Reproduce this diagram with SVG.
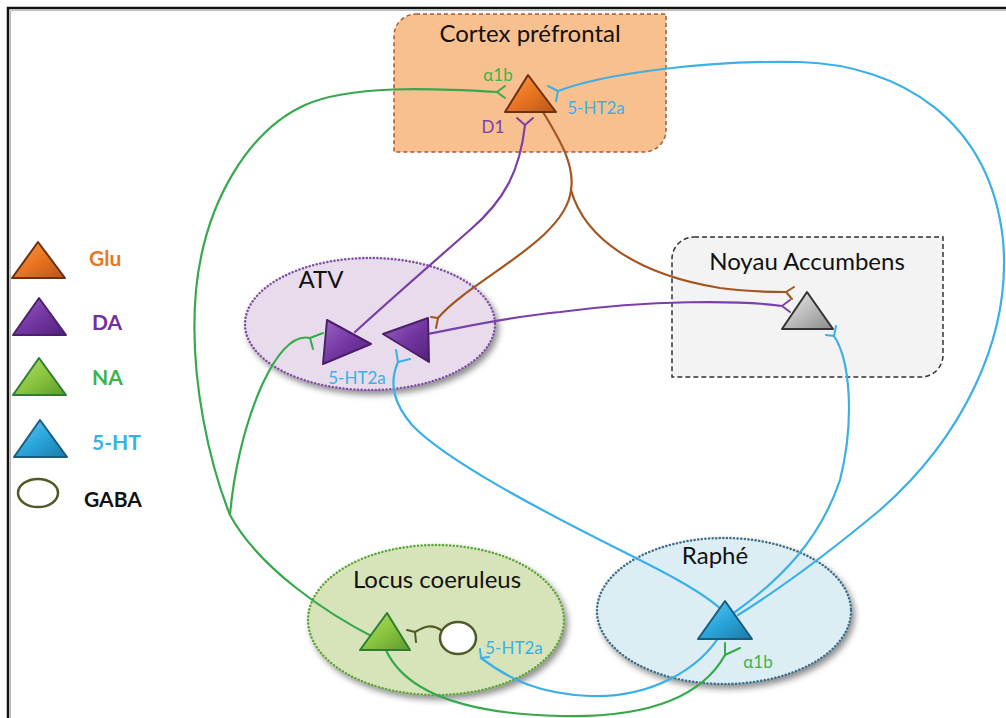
<svg xmlns="http://www.w3.org/2000/svg" width="1006" height="718" viewBox="0 0 1006 718">
<defs>
<style>
.lbl{font-family:Lato,"Open Sans","Liberation Sans",sans-serif;fill:#111;text-anchor:middle;font-size:24px}
.sm{font-family:Lato,"Open Sans","Liberation Sans",sans-serif;font-size:17px;text-anchor:middle}
.leg{font-family:Lato,"Open Sans","Liberation Sans",sans-serif;font-size:21px;font-weight:bold}
.ln{fill:none;stroke-width:2.2;stroke-linecap:round;stroke-linejoin:round}
.g{stroke:#36a94d}.b{stroke:#3bb0e6}.p{stroke:#7a3fa8}.br{stroke:#a3541f}.ol{stroke:#4f5a27}
.fk{fill:none;stroke-width:2;stroke-linecap:round;stroke-linejoin:round}
.tri{stroke-width:2;stroke-linejoin:round}
</style>
<linearGradient id="gO" x1="0" y1="0" x2="1" y2="1"><stop offset="0" stop-color="#f7a04e"/><stop offset="0.5" stop-color="#ea7421"/><stop offset="1" stop-color="#b8561a"/></linearGradient>
<linearGradient id="gP" x1="0" y1="0" x2="1" y2="1"><stop offset="0" stop-color="#9a66c4"/><stop offset="0.5" stop-color="#7537a3"/><stop offset="1" stop-color="#52217a"/></linearGradient>
<linearGradient id="gG" x1="0" y1="0" x2="1" y2="1"><stop offset="0" stop-color="#b6dc7a"/><stop offset="0.5" stop-color="#8cc63f"/><stop offset="1" stop-color="#5c9a2c"/></linearGradient>
<linearGradient id="gB" x1="0" y1="0" x2="1" y2="1"><stop offset="0" stop-color="#6fcdf2"/><stop offset="0.5" stop-color="#2aa6dc"/><stop offset="1" stop-color="#1b7aa8"/></linearGradient>
<linearGradient id="gY" x1="0" y1="0" x2="1" y2="1"><stop offset="0" stop-color="#efefef"/><stop offset="0.5" stop-color="#bdbdbd"/><stop offset="1" stop-color="#8a8a8a"/></linearGradient>
<filter id="sh" x="-10%" y="-10%" width="125%" height="130%"><feDropShadow dx="3" dy="4" stdDeviation="3" flood-color="#000" flood-opacity="0.45"/></filter>
</defs>

<path d="M8 718 V8 H1006" fill="none" stroke="#111" stroke-width="2.5"/>
<path d="M10.5 718 V10.5 H1006" fill="none" stroke="#bbb" stroke-width="1"/>

<g id="cortex">
<path d="M416 14 H666 V130 A22 22 0 0 1 644 152 H394 V36 A22 22 0 0 1 416 14 Z" fill="#f9c08f" stroke="#a85a34" stroke-width="1.5" stroke-dasharray="4 3"/>
<text class="lbl" x="530" y="42">Cortex préfrontal</text>
</g>

<g id="nac">
<path d="M694 237 H943 V355 A22 22 0 0 1 921 377 H672 V259 A22 22 0 0 1 694 237 Z" fill="#f3f3f3" stroke="#333" stroke-width="1.5" stroke-dasharray="5 3"/>
<text class="lbl" x="807" y="270">Noyau Accumbens</text>
</g>

<g id="atv">
<ellipse cx="370" cy="324" rx="125" ry="66" fill="#e8dcec" stroke="#7e4fa3" stroke-width="2.5" stroke-dasharray="0.1 3.5" stroke-linecap="round" filter="url(#sh)"/>
<text class="lbl" x="321" y="288">ATV</text>
</g>

<g id="lc">
<ellipse cx="436" cy="620" rx="128" ry="75" fill="#d7e4b9" stroke="#5fa53a" stroke-width="2.5" stroke-dasharray="0.1 3.5" stroke-linecap="round" filter="url(#sh)"/>
<text class="lbl" x="437" y="588">Locus coeruleus</text>
</g>

<g id="raphe">
<ellipse cx="724" cy="611" rx="127" ry="73" fill="#dcedf4" stroke="#3e6e8a" stroke-width="2.5" stroke-dasharray="0.1 3.5" stroke-linecap="round" filter="url(#sh)"/>
<text class="lbl" x="715" y="564">Raphé</text>
</g>

<g id="connectors">
<path class="ln g" d="M497 92 C430 88 350 85 305 105 C250 130 205 200 196 290 C188 380 212 470 230 515 C260 570 330 615 375 638"/>
<path class="ln g" d="M310 338 C292 334 276 355 262 385 C242 430 233 480 230 515"/>
<path class="ln g" d="M385 648 C405 695 470 714 560 716 C640 718 700 700 725 655"/>
<path class="ln b" d="M558 91 C600 75 700 60 800 62 C900 65 990 120 1003 240 C1012 340 960 440 880 510 C820 560 770 595 738 615"/>
<path class="ln b" d="M834 336 C850 360 855 420 840 480 C820 540 780 580 735 612"/>
<path class="ln b" d="M398 362 C388 385 395 405 412 425 C445 460 540 510 620 550 C660 570 700 590 722 610"/>
<path class="ln b" d="M481 658 C510 680 540 694 590 696 C650 698 700 670 722 632"/>
<path class="ln p" d="M525 125 C520 170 505 200 470 230 C430 265 390 300 355 332"/>
<path class="ln p" d="M782 306 C740 300 650 300 560 312 C500 318 460 328 428 334"/>
<path class="ln br" d="M543 112 C560 140 575 165 571 190 C566 240 470 280 438 318"/>
<path class="ln br" d="M571 190 C585 240 640 275 720 288 C750 292 770 292 786 292"/>
<path class="ln ol" d="M441 630 C432 624 425 626 415 632"/>
<path class="fk g" d="M505 86 L497 92 L505 98"/>
<path class="fk b" d="M548 86 L558 91 L556 101"/>
<path class="fk p" d="M517 118 L525 125 L533 118"/>
<path class="fk br" d="M794 287 L786 292 L792 299"/>
<path class="fk p" d="M790 300 L782 306 L790 312"/>
<path class="fk b" d="M826 335 L834 336 L836 326"/>
<path class="fk br" d="M431 317 L438 318 L436 328"/>
<path class="fk g" d="M323 333 L310 338 L313 349"/>
<path class="fk b" d="M396 350 L398 362 L410 359"/>
<path class="fk ol" d="M407 630 L415 632 L416 642"/>
<path class="fk b" d="M480 649 L481 658 L489 657"/>
<path class="fk g" d="M725 643 L725 655 L740 648"/>
</g>

<g id="neuron-cortex">
<polygon class="tri" points="528,75 505,112 556,112" fill="url(#gO)" stroke="#6a3010"/>
<text class="sm" x="498" y="81" fill="#3cb44a">α1b</text>
<text class="sm" x="596" y="114" fill="#3bb0e6">5-HT2a</text>
<text class="sm" x="493" y="133" fill="#7a3fa8">D1</text>
</g>

<g id="neuron-atv">
<polygon class="tri" points="327,320 323,364 371,344" fill="url(#gP)" stroke="#4b1f6a"/>
<polygon class="tri" points="383,334 428,318 429,362" fill="url(#gP)" stroke="#4b1f6a"/>
<text class="sm" x="357" y="384" fill="#3bb0e6">5-HT2a</text>
</g>

<g id="neuron-nac">
<polygon class="tri" points="807,292 782,329 833,329" fill="url(#gY)" stroke="#333"/>
</g>

<g id="neuron-lc">
<polygon class="tri" points="387,613 360,650 410,650" fill="url(#gG)" stroke="#2e7d32"/>
<ellipse cx="458" cy="638" rx="18" ry="16" fill="#fff" stroke="#4f5a27" stroke-width="2.5"/>
<text class="sm" x="514" y="654" fill="#3bb0e6">5-HT2a</text>
</g>

<g id="neuron-raphe">
<polygon class="tri" points="725,601 698,639 752,639" fill="url(#gB)" stroke="#1a5c7c"/>
<text class="sm" x="758" y="668" fill="#3cb44a">α1b</text>
</g>

<g id="legend">
<polygon class="tri" points="38,242 12,278 65,278" fill="url(#gO)" stroke="#6a3010"/>
<text class="leg" x="89" y="266" fill="#e87722">Glu</text>
<polygon class="tri" points="39,298 13,335 66,335" fill="url(#gP)" stroke="#4b1f6a"/>
<text class="leg" x="92" y="330" fill="#7030a0">DA</text>
<polygon class="tri" points="39,358 13,395 66,395" fill="url(#gG)" stroke="#2e7d32"/>
<text class="leg" x="92" y="385" fill="#3cb44a">NA</text>
<polygon class="tri" points="40,420 14,457 67,457" fill="url(#gB)" stroke="#1a5c7c"/>
<text class="leg" x="92" y="450" fill="#3bb0e6">5-HT</text>
<ellipse cx="38" cy="493" rx="20" ry="14" fill="#fff" stroke="#4f5a27" stroke-width="2.5"/>
<text class="leg" x="84" y="507" fill="#111">GABA</text>
</g>
</svg>
